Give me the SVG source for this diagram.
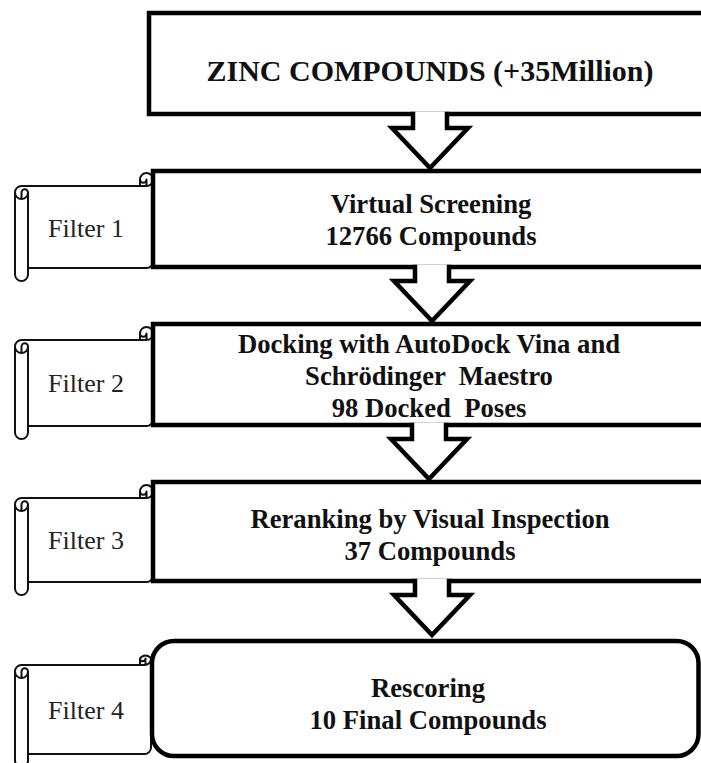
<svg xmlns="http://www.w3.org/2000/svg" xmlns:xlink="http://www.w3.org/1999/xlink" width="701" height="763" viewBox="0 0 701 763">
  <style>
    .box { fill: #fff; stroke: #000; stroke-width: 4.5; stroke-linejoin: miter; }
    .scroll { fill: #fff; stroke: #111; stroke-width: 2; stroke-linejoin: round; }
    .scroll-line { fill: none; stroke: #111; stroke-width: 2; stroke-linejoin: round; }
    .step { font-family: "Liberation Serif", "Times New Roman", serif; font-weight: bold; font-size: 26.67px; fill: #111; text-anchor: middle; }
    .title { font-size: 30px; }
    .filter { font-family: "Liberation Serif", "Times New Roman", serif; font-size: 26px; fill: #222; text-anchor: middle; }
    .arrow { fill: #fff; stroke: #000; stroke-width: 4.5; stroke-linejoin: miter; }
  </style>
  <defs>
    <!-- block arrow hanging from a box bottom; origin = neck centre on the box edge -->
    <path id="down-arrow" class="arrow" d="M -17,-2.25 V 14 H -38 L 0,54 L 38,14 H 17 V -2.25"/>
  </defs>

  <rect width="701" height="763" fill="#fff"/>

  <!-- Source library -->
  <g id="zinc">
    <rect class="box" x="149" y="13" width="600" height="101"/>
    <text class="step title" x="430" y="81">ZINC COMPOUNDS (+35Million)</text>
  </g>

  <!-- Filter 1 -->
  <g id="filter1">
    <g transform="translate(15,173)">
      <path class="scroll" d="M 0,19.5 A 6.5,6.5 0 0 1 6.5,13 L 125,13 L 125,6.5 A 6.5,6.5 0 0 1 138,6.5 L 138,88.5 A 6.5,6.5 0 0 1 131.5,95 L 13,95 L 13,101.5 A 6.5,6.5 0 0 1 0,101.5 Z"/>
      <path class="scroll-line" d="M 125,13 L 131.5,13 A 6.5,6.5 0 0 0 138,6.5 M 131.5,13 L 131.5,6.5 A 3.25,3.25 0 0 1 125,6.5 M 6.5,26 L 6.5,19.5 A 3.25,3.25 0 0 1 13,19.5 A 6.5,6.5 0 0 1 0,19.5 M 13,19.5 L 13,95"/>
    </g>
    <text class="filter" x="86" y="237">Filter 1</text>
  </g>
  <g id="virtual-screening">
    <rect class="box" x="153" y="171" width="600" height="96"/>
    <text class="step" x="431" y="213">Virtual Screening</text>
    <text class="step" x="431" y="245">12766 Compounds</text>
  </g>

  <!-- Filter 2 -->
  <g id="filter2">
    <g transform="translate(15,327)">
      <path class="scroll" d="M 0,19.5 A 6.5,6.5 0 0 1 6.5,13 L 125,13 L 125,6.5 A 6.5,6.5 0 0 1 138,6.5 L 138,92.5 A 6.5,6.5 0 0 1 131.5,99 L 13,99 L 13,105.5 A 6.5,6.5 0 0 1 0,105.5 Z"/>
      <path class="scroll-line" d="M 125,13 L 131.5,13 A 6.5,6.5 0 0 0 138,6.5 M 131.5,13 L 131.5,6.5 A 3.25,3.25 0 0 1 125,6.5 M 6.5,26 L 6.5,19.5 A 3.25,3.25 0 0 1 13,19.5 A 6.5,6.5 0 0 1 0,19.5 M 13,19.5 L 13,99"/>
    </g>
    <text class="filter" x="86" y="392">Filter 2</text>
  </g>
  <g id="docking">
    <rect class="box" x="153" y="324" width="600" height="101"/>
    <text class="step" x="429" y="353">Docking with AutoDock Vina and</text>
    <text class="step" x="429" y="385" xml:space="preserve">Schrödinger  Maestro</text>
    <text class="step" x="429" y="417" xml:space="preserve">98 Docked  Poses</text>
  </g>

  <!-- Filter 3 -->
  <g id="filter3">
    <g transform="translate(15,485)">
      <path class="scroll" d="M 0,19.5 A 6.5,6.5 0 0 1 6.5,13 L 125,13 L 125,6.5 A 6.5,6.5 0 0 1 138,6.5 L 138,90.5 A 6.5,6.5 0 0 1 131.5,97 L 13,97 L 13,103.5 A 6.5,6.5 0 0 1 0,103.5 Z"/>
      <path class="scroll-line" d="M 125,13 L 131.5,13 A 6.5,6.5 0 0 0 138,6.5 M 131.5,13 L 131.5,6.5 A 3.25,3.25 0 0 1 125,6.5 M 6.5,26 L 6.5,19.5 A 3.25,3.25 0 0 1 13,19.5 A 6.5,6.5 0 0 1 0,19.5 M 13,19.5 L 13,97"/>
    </g>
    <text class="filter" x="86" y="549">Filter 3</text>
  </g>
  <g id="reranking">
    <rect class="box" x="153" y="482" width="600" height="99"/>
    <text class="step" x="430" y="528">Reranking by Visual Inspection</text>
    <text class="step" x="430" y="560">37 Compounds</text>
  </g>

  <!-- Filter 4 -->
  <g id="filter4">
    <g transform="translate(15,652)">
      <path class="scroll" d="M 0,19.5 A 6.5,6.5 0 0 1 6.5,13 L 125,13 L 125,6.5 A 6.5,6.5 0 0 1 136,6.5 L 136,95.5 A 6.5,6.5 0 0 1 129.5,102 L 13,102 L 13,108.5 A 6.5,6.5 0 0 1 0,108.5 Z"/>
      <path class="scroll-line" d="M 125,13 L 129.5,13 A 6.5,6.5 0 0 0 136,6.5 M 130.5,13 L 130.5,6.5 A 2.75,2.75 0 0 1 125,6.5 M 6.5,26 L 6.5,19.5 A 3.25,3.25 0 0 1 13,19.5 A 6.5,6.5 0 0 1 0,19.5 M 13,19.5 L 13,102"/>
    </g>
    <text class="filter" x="86" y="719">Filter 4</text>
  </g>
  <g id="rescoring">
    <rect class="box" x="152" y="641" width="546.5" height="115" rx="22" ry="22"/>
    <text class="step" x="428" y="697">Rescoring</text>
    <text class="step" x="428" y="729">10 Final Compounds</text>
  </g>

  <!-- Flow arrows between stages -->
  <g id="connectors">
    <use xlink:href="#down-arrow" x="430" y="114"/>
    <use xlink:href="#down-arrow" x="432" y="267"/>
    <use xlink:href="#down-arrow" x="429" y="425"/>
    <use xlink:href="#down-arrow" x="432" y="581"/>
  </g>
</svg>
